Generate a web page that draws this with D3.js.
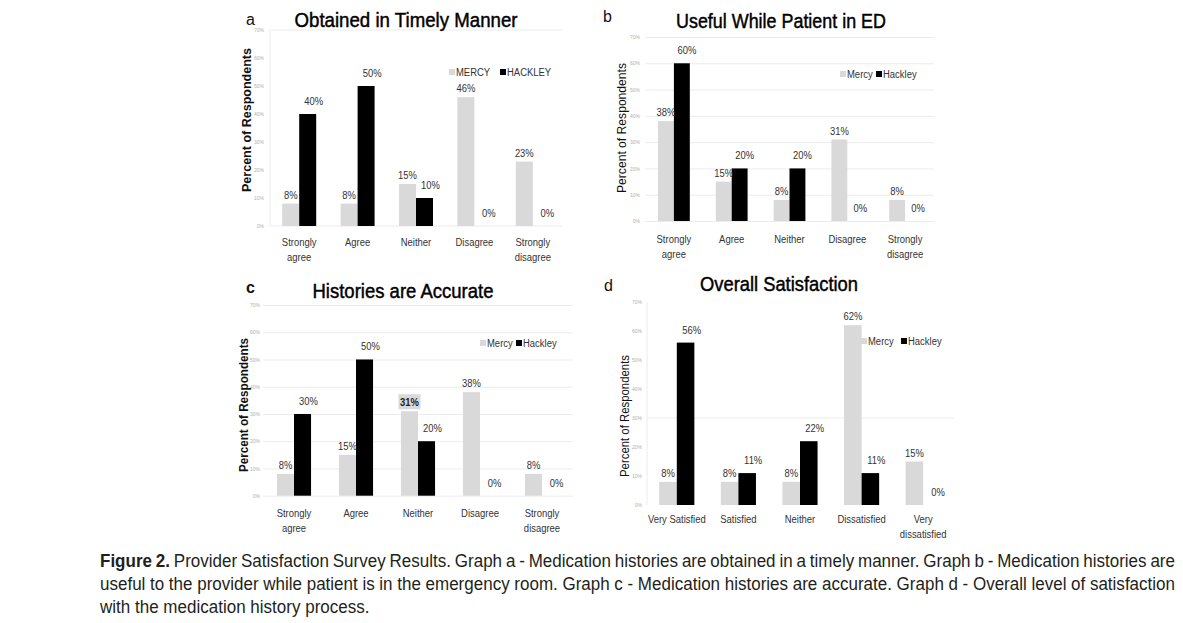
<!DOCTYPE html>
<html><head><meta charset="utf-8">
<script src="https://cdn.jsdelivr.net/npm/d3@7"></script>
<style>
body{margin:0;background:#fff}
svg{display:block}
text{font-family:"Liberation Sans",Arial,sans-serif}
</style>
</head><body>
<svg id="chart" width="1183" height="623"></svg>
<script>
// ---------- data ----------
const categoriesAgree = ["Strongly\nagree", "Agree", "Neither", "Disagree", "Strongly\ndisagree"];
const categoriesSatisfaction = ["Very Satisfied", "Satisfied", "Neither", "Dissatisfied", "Very\ndissatisfied"];
const seriesNamesA = ["MERCY", "HACKLEY"];
const seriesNames = ["Mercy", "Hackley"];

const mercyA = [8, 8, 15, 46, 23];
const hackleyA = [40, 50, 10, 0, 0];
const mercyB = [38, 15, 8, 31, 8];
const hackleyB = [60, 20, 20, 0, 0];
const mercyC = [8, 15, 31, 38, 8];
const hackleyC = [30, 50, 20, 0, 0];
const mercyD = [8, 8, 8, 62, 15];
const hackleyD = [56, 11, 22, 11, 0];

const yTickValues = [0, 10, 20, 30, 40, 50, 60, 70];
const panelTitles = ["Obtained in Timely Manner", "Useful While Patient in ED", "Histories are Accurate", "Overall Satisfaction"];
const panelLetters = ["a", "b", "c", "d"];
const yAxisTitle = "Percent of Respondents";
const captionBold = "Figure 2.";
const captionLines = [
  "Provider Satisfaction Survey Results. Graph a - Medication histories are obtained in a timely manner. Graph b - Medication histories are",
  "useful to the provider while patient is in the emergency room. Graph c - Medication histories are accurate. Graph d - Overall level of satisfaction",
  "with the medication history process."
];

// ---------- layout (styles / positions only) ----------
const MERCY_COLOR = "#d9d9d9";
const HACKLEY_COLOR = "#000000";
const GRID_COLOR = "#ececec";

const panels = [
  { cats: categoriesAgree, mercy: mercyA, hackley: hackleyA, names: seriesNamesA,
    xr: [270, 562], yr: [226, 30], pad: 0.418, grid: "border",
    letter: [246, 25, 16, "normal"], title: [406, 27, 223], axisTitle: [247, 120, 144, "bold"],
    legend: [456, 72, 507], tickX: 264, catDy: 20, hlDx: 6 },
  { cats: categoriesAgree, mercy: mercyB, hackley: hackleyB, names: seriesNames,
    xr: [645, 934], yr: [221, 37], pad: 0.45, grid: "all",
    letter: [603, 22, 16, "normal"], title: [781, 28, 210], axisTitle: [622, 128, 130, "normal"],
    legend: [847, 74, 883], tickX: 640, catDy: 22, hlDx: 5 },
  { cats: categoriesAgree, mercy: mercyC, hackley: hackleyC, names: seriesNames,
    xr: [263, 573], yr: [495.7, 305], pad: 0.45, grid: "all",
    letter: [246, 293, 16, "bold"], title: [403, 298, 181], axisTitle: [244, 405, 134, "bold"],
    legend: [487, 343, 523], tickX: 260, catDy: 21, hlDx: 6, highlight: 2 },
  { cats: categoriesSatisfaction, mercy: mercyD, hackley: hackleyD, names: seriesNames,
    xr: [646, 954], yr: [505, 302], pad: 0.43, grid: "d",
    letter: [604, 291, 16, "normal"], title: [779, 291, 158], axisTitle: [625, 416, 122, "normal"],
    legend: [868, 341, 908], tickX: 642, catDy: 18, hlDx: 6 }
];

const svg = d3.select("#chart");

function txt(g, x, y, s, o = {}) {
  return g.append("text")
    .attr("transform", `translate(${x},${y}) scale(${o.sx ?? 0.85},1)`)
    .attr("text-anchor", o.anchor || "middle")
    .attr("font-size", o.size || 11)
    .attr("font-weight", o.weight || "normal")
    .attr("fill", o.fill || "#222")
    .text(s);
}

panels.forEach((p, i) => {
  const g = svg.append("g");
  const x0 = d3.scaleBand().domain(p.cats).range(p.xr).paddingInner(p.pad).paddingOuter(p.pad / 2);
  const x1 = d3.scaleBand().domain(["mercy", "hackley"]).range([0, x0.bandwidth()]);
  const y = d3.scaleLinear().domain([0, 70]).range(p.yr);

  // grid
  const gridG = g.append("g").attr("stroke", GRID_COLOR).attr("stroke-width", 1);
  if (p.grid === "all") {
    g.append("g").attr("transform", `translate(${p.xr[0]},0)`)
      .call(d3.axisLeft(y).tickValues(yTickValues).tickSize(-(p.xr[1] - p.xr[0])).tickFormat(""))
      .call(a => a.select(".domain").remove())
      .call(a => a.selectAll("line").attr("stroke", GRID_COLOR));
  } else if (p.grid === "border") {
    [0, 70].forEach(v => gridG.append("line").attr("x1", p.xr[0]).attr("x2", p.xr[1]).attr("y1", y(v)).attr("y2", y(v)));
    gridG.append("line").attr("x1", p.xr[0]).attr("x2", p.xr[0]).attr("y1", y(0)).attr("y2", y(70));
  } else {
    gridG.append("line").attr("x1", p.xr[0] + 1).attr("x2", p.xr[0] + 1).attr("y1", y(0)).attr("y2", y(70));
    gridG.append("line").attr("x1", p.xr[0] + 1).attr("x2", p.xr[1]).attr("y1", y(30)).attr("y2", y(30));
  }

  // y tick labels
  g.append("g").attr("transform", `translate(${p.tickX + 3},0)`)
    .call(d3.axisLeft(y).tickValues(yTickValues).tickSize(0).tickPadding(3).tickFormat(d => d + "%"))
    .call(a => a.select(".domain").remove())
    .call(a => a.selectAll("text").attr("font-size", 5).attr("fill", "#b0b0b0")
      .attr("font-family", '"Liberation Sans",Arial,sans-serif'));

  // bars
  const rows = p.cats.map((c, k) => ({ c, k, mercy: p.mercy[k], hackley: p.hackley[k] }));
  const grp = g.selectAll(".cat").data(rows).join("g").attr("transform", d => `translate(${x0(d.c)},0)`);
  grp.append("rect").attr("x", x1("mercy")).attr("width", x1.bandwidth())
    .attr("y", d => y(d.mercy)).attr("height", d => y(0) - y(d.mercy)).attr("fill", MERCY_COLOR);
  grp.append("rect").attr("x", x1("hackley")).attr("width", x1.bandwidth())
    .attr("y", d => y(d.hackley)).attr("height", d => y(0) - y(d.hackley)).attr("fill", HACKLEY_COLOR);

  // value labels
  rows.forEach(d => {
    const mx = x0(d.c) + x1("mercy") + x1.bandwidth() / 2;
    const hx = x0(d.c) + x1("hackley") + x1.bandwidth() / 2 + p.hlDx;
    const my = y(d.mercy) - 5;
    if (p.highlight === d.k) {
      g.append("rect").attr("x", mx - 11).attr("y", my - 12).attr("width", 22).attr("height", 15).attr("fill", MERCY_COLOR);
      txt(g, mx, my, d.mercy + "%", { size: 11.5, sx: 0.82, weight: "bold" });
    } else {
      txt(g, mx, my, d.mercy + "%", { size: 11.5, sx: 0.82, fill: "#333" });
    }
    txt(g, hx, y(d.hackley) - 9, d.hackley + "%", { size: 11.5, sx: 0.82, fill: "#333" });
  });

  // category labels
  rows.forEach(d => {
    const cx = x0(d.c) + x0.bandwidth() / 2;
    d.c.split("\n").forEach((line, li) => {
      txt(g, cx, y(0) + p.catDy + li * 15, line, { size: 11, sx: 0.86, fill: "#333" });
    });
  });

  // legend
  const [lx, ly, hx2] = p.legend;
  g.append("rect").attr("x", lx - 7).attr("y", ly - 3).attr("width", 6).attr("height", 6).attr("fill", MERCY_COLOR);
  txt(g, lx, ly + 4, p.names[0], { anchor: "start", size: 11, sx: 0.86, fill: "#333" });
  g.append("rect").attr("x", hx2 - 7).attr("y", ly - 3).attr("width", 6).attr("height", 6).attr("fill", HACKLEY_COLOR);
  txt(g, hx2, ly + 4, p.names[1], { anchor: "start", size: 11, sx: 0.86, fill: "#333" });

  // axis title
  g.append("text").attr("transform", `translate(${p.axisTitle[0] + 4},${p.axisTitle[1]}) rotate(-90)`)
    .attr("text-anchor", "middle").attr("font-size", 12).attr("font-weight", p.axisTitle[3])
    .attr("fill", "#111")
    .attr("textLength", p.axisTitle[2]).attr("lengthAdjust", "spacingAndGlyphs")
    .text(yAxisTitle);

  // panel letter
  g.append("text").attr("x", p.letter[0]).attr("y", p.letter[1]).attr("font-size", p.letter[2])
    .attr("font-weight", p.letter[3]).attr("fill", "#111").text(panelLetters[i]);

  // title
  g.append("text").attr("x", p.title[0]).attr("y", p.title[1]).attr("text-anchor", "middle")
    .attr("font-size", 20.5).attr("fill", "#000").attr("stroke", "#000").attr("stroke-width", 0.45)
    .attr("textLength", p.title[2]).attr("lengthAdjust", "spacingAndGlyphs")
    .text(panelTitles[i]);
});

// caption: slightly condensed face, first two lines justified to full width
const CAP_SX = 0.92, CAP_SIZE = 18.5, CAP_X = 100;
const capG = svg.append("g").attr("fill", "#231f20");
const capYs = [567, 590, 613];
const capTargets = [1075, 1075, null];
captionLines.forEach((line, k) => {
  const t = capG.append("text")
    .attr("transform", `translate(${CAP_X},${capYs[k]}) scale(${CAP_SX},1)`)
    .attr("font-size", CAP_SIZE);
  if (k === 0) {
    t.append("tspan").attr("font-weight", "bold").text(captionBold + " ");
  }
  t.append("tspan").text(line);
  if (capTargets[k]) {
    const natural = t.node().getComputedTextLength();
    const full = (k === 0 ? captionBold + " " : "") + line;
    const spaces = (full.match(/ /g) || []).length;
    const extra = (capTargets[k] / CAP_SX - natural) / spaces;
    t.style("word-spacing", extra + "px");
  }
});
</script>
</body></html>
